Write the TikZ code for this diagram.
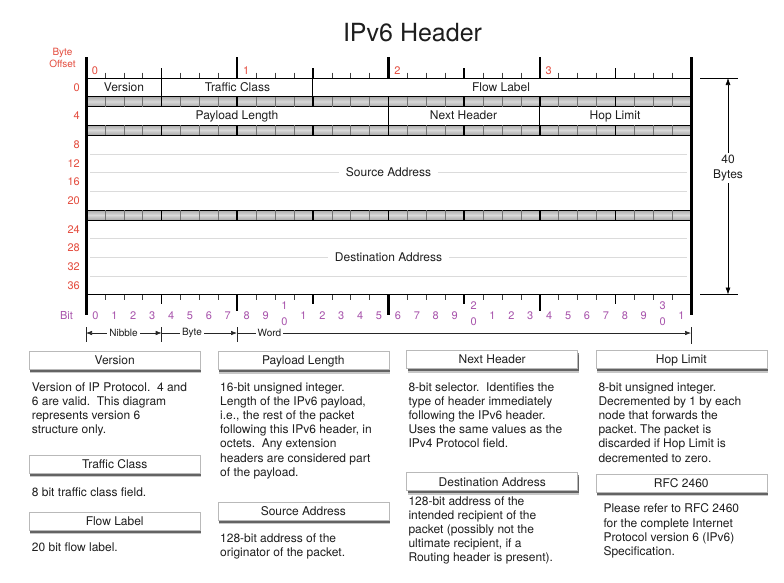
\documentclass[tikz,border=0pt]{standalone}
\usepackage{fontspec}
\setmainfont{TeX Gyre Heros}
\usetikzlibrary{shadows,arrows.meta}
\frenchspacing
\definecolor{offred}{RGB}{228,76,62}
\definecolor{bitpurple}{RGB}{168,84,172}
\definecolor{txt}{RGB}{30,30,30}
\tikzset{
  fs/.style={font=\fontsize{#1}{#1}\selectfont},
  lbl/.style={fs=12, text=txt, inner sep=0pt, anchor=base},
  bandfill/.style={top color=gray!68, bottom color=gray!68, middle color=gray!30},
  hbox/.style={draw=gray!55, line width=0.5pt, fill=white, minimum width=171pt,
    minimum height=18pt, inner sep=0pt, fs=12, text=txt, text height=10.6pt, text depth=2pt,
    drop shadow={shadow xshift=1.2pt, shadow yshift=-4.2pt, opacity=0.22, fill=black},
    drop shadow={shadow xshift=0.8pt, shadow yshift=-2.6pt, opacity=0.5, fill=black}},
  para/.style={anchor=north west, inner sep=0pt, align=left, text=txt,
    font=\fontsize{12}{14.2}\selectfont},
  offs/.style={fs=11, text=offred, anchor=base east, inner sep=0pt},
  bitlab/.style={fs=11, text=bitpurple, inner sep=0pt, anchor=base},
  dimlbl/.style={fs=10, text=txt, fill=white, inner sep=2pt},
  arr/.style={line width=0.6pt, black!85},
  tip/.style={-{Latex[length=6pt,width=4.5pt]}},
}
\begin{document}
\begin{tikzpicture}[x=1pt,y=-1pt]
\useasboundingbox (0,0) rectangle (784,582);
\fill[white] (0,0) rectangle (784,582);
\def\xL{86}\def\xR{691}\def\bw{18.90625}

% title
\node[fs=25, text=txt, inner sep=0pt, anchor=base] (title) at (412.5,41) {IPv6 Header};

% byte offset heading
\node[font=\fontsize{10}{12.3}\selectfont, text=offred, align=center, inner sep=0pt] (bo) at (62.5,57.8) {Byte\\Offset};

% rows
\draw[line width=0.8pt, fill=white] (\xL,78) rectangle (\xR,96.5);
\draw[line width=0.8pt, fill=white] (\xL,106.5) rectangle (\xR,125);
\draw[line width=0.8pt, fill=white] (\xL,135) rectangle (\xR,210);
\draw[line width=0.8pt, fill=white] (\xL,220) rectangle (\xR,294.5);

% bands
\foreach \ya/\yb in {96.5/106.5,125/135,210/220}{
  \shade[bandfill] (\xL,\ya) rectangle (\xR,\yb);
  \draw[line width=0.8pt] (\xL,\ya) rectangle (\xR,\yb);
  \foreach \i in {1,...,31}{
    \pgfmathsetmacro\xx{\xL+\i*\bw}
    \pgfmathtruncatemacro\mF{mod(\i,4)}
    \ifnum\mF=0 \draw[line width=1.6pt] (\xx,\ya) -- (\xx,\yb);
    \else \draw[line width=0.5pt,black!55] (\xx,\ya) -- (\xx,\yb);\fi
  }
}

% field dividers
\foreach \b/\ya/\yb in {4/78/96.5,12/78/96.5,16/106.5/125,24/106.5/125}{
  \pgfmathsetmacro\xx{\xL+\b*\bw}
  \draw[line width=1pt] (\xx,\ya) -- (\xx,\yb);
}

% light inner lines
\foreach \yy in {153.75,172.5,191.25,238.6,257.25,275.9}{
  \draw[gray!28, line width=0.5pt] (90,\yy) -- (687,\yy);
}

% field labels
\node[lbl] (fver) at (124,91.5) {Version};
\node[lbl] (ftc) at (237.4,91.5) {Traffic Class};
\node[lbl] (ffl) at (501,91.5) {Flow Label};
\node[lbl] (fpl) at (237,119.5) {Payload Length};
\node[lbl] (fnh) at (463.5,119.5) {Next Header};
\node[lbl] (fhl) at (615,119.5) {Hop Limit};
\node[fs=12, text=txt, fill=white, inner xsep=7pt, inner ysep=1pt, text height=8.6pt, text depth=0pt] (fsa) at (388.5,172.5) {Source Address};
\node[fs=12, text=txt, fill=white, inner xsep=7pt, inner ysep=1pt, text height=8.6pt, text depth=0pt] (fda) at (388.5,257.25) {Destination Address};

% top ruler
\foreach \i in {1,...,31}{
  \pgfmathsetmacro\xx{\xL+\i*\bw}
  \pgfmathtruncatemacro\mS{mod(\i,16)}
  \pgfmathtruncatemacro\mE{mod(\i,8)}
  \pgfmathtruncatemacro\mF{mod(\i,4)}
  \ifnum\mS=0 \draw[line width=3pt] (\xx,57) -- (\xx,78);
  \else\ifnum\mE=0 \draw[line width=2.2pt] (\xx,57) -- (\xx,78);
  \else\ifnum\mF=0 \draw[line width=1.3pt] (\xx,68) -- (\xx,78);
  \else \draw[line width=0.5pt, black!75] (\xx,72.5) -- (\xx,78); \fi\fi\fi
}
\foreach \k in {0,1,2,3}{
  \pgfmathsetmacro\xx{\xL+\k*8*\bw+9}
  \node[fs=11, text=offred, inner sep=0pt, anchor=base] (byte\k) at (\xx,74) {\k};
}

% bottom ruler
\foreach \i in {1,...,31}{
  \pgfmathsetmacro\xx{\xL+\i*\bw}
  \pgfmathtruncatemacro\mS{mod(\i,16)}
  \pgfmathtruncatemacro\mE{mod(\i,8)}
  \pgfmathtruncatemacro\mF{mod(\i,4)}
  \ifnum\mS=0 \draw[line width=3pt] (\xx,294.5) -- (\xx,315);
  \else\ifnum\mE=0 \draw[line width=2pt] (\xx,294.5) -- (\xx,311);
  \else\ifnum\mF=0 \draw[line width=1.3pt] (\xx,294.5) -- (\xx,304);
  \else \draw[line width=0.5pt, black!75] (\xx,294.5) -- (\xx,300); \fi\fi\fi
}

% outer borders
\draw[line width=3pt] (\xL,57) -- (\xL,315);
\draw[line width=3pt] (\xR,57) -- (\xR,315);

% byte offsets
\foreach \lab/\yy in {0/87.25,4/115.75,8/144.4,12/163.1,16/181.9,20/200.6,24/229.3,28/247.9,32/266.6,36/285.2}{
  \node[offs] (off\lab) at (80,\yy+3.9) {\lab};
}

% bit labels
\node[fs=11, text=bitpurple, inner sep=0pt, anchor=base] (bitword) at (66.5,319) {Bit};
\foreach \i in {0,...,31}{
  \pgfmathsetmacro\xx{\xL+(\i+0.5)*\bw}
  \pgfmathtruncatemacro\ones{mod(\i,10)}
  \pgfmathtruncatemacro\tens{div(\i,10)}
  \ifnum\i>9 \ifnum\ones=0
     \node[bitlab] at (\xx,309) {\tens};
     \node[bitlab] at (\xx,325) {0};
  \else \node[bitlab] at (\xx,319) {\ones}; \fi
  \else \node[bitlab] at (\xx,319) {\ones}; \fi
}

% nibble / byte / word
\coordinate (n0) at (86,333);
\coordinate (n1) at (161.7,333);
\coordinate (n2) at (237,333);
\coordinate (n3) at (691,333);
\foreach \xx in {86,161.7,237}{ \draw[line width=0.6pt, black!85] (\xx,327) -- (\xx,342); }
\draw[line width=0.6pt, black!85] (691,327) -- (691,344);
\draw[arr, {Latex[length=6pt,width=4.5pt]}-{Latex[length=6pt,width=4.5pt]}] (n0) -- (n1);
\draw[arr, tip] (n1) -- (n2);
\draw[arr, tip] (n2) -- (n3);
\node[dimlbl] (tnib) at (123.5,333) {Nibble};
\node[dimlbl] (tbyte) at (192,333) {Byte};
\node[dimlbl] (tword) at (269.5,333) {Word};

% 40 bytes
\coordinate (ta) at (700,78);
\coordinate (tb) at (738,78);
\coordinate (ba) at (700,294.5);
\coordinate (bb) at (738,294.5);
\coordinate (at) at (728,78);
\coordinate (ab) at (728,294.5);
\draw[line width=0.6pt] (ta) -- (tb);
\draw[line width=0.6pt] (ba) -- (bb);
\draw[line width=0.6pt, {Latex[length=7pt,width=5pt]}-{Latex[length=7pt,width=5pt]}] (at) -- (ab);
\node[font=\fontsize{12}{14.3}\selectfont, text=txt, fill=white, align=center, inner sep=2pt] (forty) at (728,168) {40\\Bytes};

% summary boxes
\node[hbox] (hver) at (114.7,360) {Version};
\node[hbox] (htc) at (114.7,464) {Traffic Class};
\node[hbox] (hfl) at (114.7,521) {Flow Label};
\node[hbox] (hpl) at (303.3,360.5) {Payload Length};
\node[hbox] (hsa) at (303.3,511) {Source Address};
\node[hbox] (hnh) at (492.2,359.5) {Next Header};
\node[hbox] (hda) at (492.2,481.7) {Destination Address};
\node[hbox] (hhl) at (681.3,359.5) {Hop Limit};
\node[hbox] (hrfc) at (681.3,483) {RFC 2460};

% paragraphs
\node[para] (pver) at (31.7,381) {\strut Version of IP Protocol.\ \ 4 and\\6 are valid.\ \ This diagram\\represents version 6\\structure only.};
\node[para] (ptc) at (31.7,486) {\strut 8 bit traffic class field.};
\node[para] (pfl) at (31.7,541) {\strut 20 bit flow label.};
\node[para] (ppl) at (220,381) {\strut 16-bit unsigned integer.\\Length of the IPv6 payload,\\i.e., the rest of the packet\\following this IPv6 header, in\\octets.\ \ Any extension\\headers are considered part\\of the payload.};
\node[para] (psa) at (220,532) {\strut 128-bit address of the\\originator of the packet.};
\node[para] (pnh) at (408.3,381) {\strut 8-bit selector.\ \ Identifies the\\type of header immediately\\following the IPv6 header.\\Uses the same values as the\\IPv4 Protocol field.};
\node[para] (pda) at (408.3,495) {\strut 128-bit address of the\\intended recipient of the\\packet (possibly not the\\ultimate recipient, if a\\Routing header is present).};
\node[para] (phl) at (598.3,381) {\strut 8-bit unsigned integer.\\Decremented by 1 by each\\node that forwards the\\packet. The packet is\\discarded if Hop Limit is\\decremented to zero.};
\node[para] (prfc) at (603.3,502.7) {\strut Please refer to RFC 2460\\for the complete Internet\\Protocol version 6 (IPv6)\\Specification.};
\end{tikzpicture}
\end{document}
